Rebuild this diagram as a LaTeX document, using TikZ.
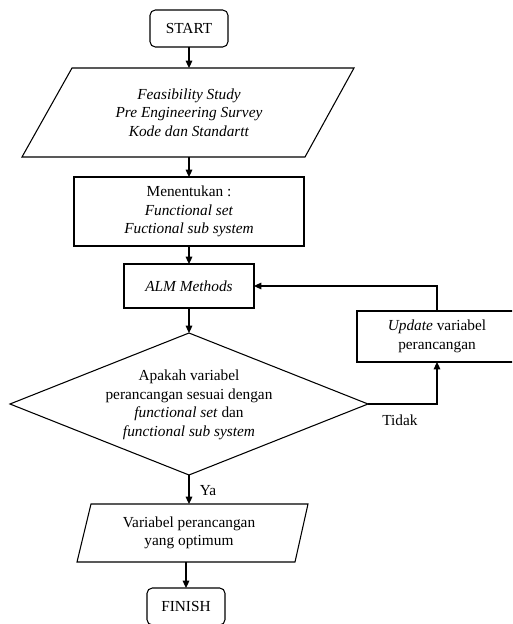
\documentclass[tikz,border=0pt]{standalone}
\usepackage{fontspec}
\setmainfont{Liberation Serif}
\usetikzlibrary{shapes.geometric,arrows.meta}
\begin{document}
\begin{tikzpicture}[x=0.75pt,y=-0.75pt, line width=0.8pt,
  font=\fontsize{11.5}{13.9}\selectfont,
  >={Triangle[length=5.5pt,width=5pt]},
  term/.style={draw, rounded corners=4pt, minimum width=58.5pt, minimum height=27.75pt, inner sep=0pt, outer sep=0pt},
  procbox/.style={draw, align=center, inner sep=0pt, outer sep=0pt},
  txt/.style={align=center, inner sep=0pt, outer sep=0pt},
  decision/.style={draw, shape=diamond, inner sep=0pt, outer sep=0pt, minimum width=268.5pt, minimum height=106.5pt}]
\useasboundingbox (0,0) rectangle (512,624);
\clip (0,0) rectangle (512,624);

\node[term] (start) at (189,28.5) {START};

\draw (72,68) -- (354,68) -- (305,157) -- (22,157) -- cycle;
\node[txt, minimum height=66.75pt] (p1) at (189,112.5)
  {\textit{Feasibility Study}\\ \textit{Pre Engineering Survey}\\ \textit{Kode dan Standartt}};

\node[procbox, minimum width=172.5pt, minimum height=51.75pt] (men) at (189,211.5)
  {Menentukan :\\ \textit{Functional set}\\ \textit{Fuctional sub system}};

\node[procbox, minimum width=97.5pt, minimum height=33pt] (alm) at (189,286) {\textit{ALM Methods}};

\node[decision] (dec) at (189,404) {};
\node[txt] (dectxt) at (189,405)
  {Apakah variabel\\ perancangan sesuai dengan\\ \textit{functional set} dan\\ \textit{functional sub system}};

\node[procbox, minimum width=120pt, minimum height=38.25pt] (upd) at (437,336.5)
  {\textit{Update} variabel\\ perancangan};

\draw (91,504) -- (308,504) -- (295,562) -- (77,562) -- cycle;
\node[txt, minimum height=43.5pt] (p2) at (189,533)
  {Variabel perancangan\\ yang optimum};

\node[term] (fin) at (186,606.5) {FINISH};

\coordinate (lx) at (437,0);

\draw[->] (start) -- (p1);
\draw[->] (p1) -- (men);
\draw[->] (men) -- (alm);
\draw[->] (alm) -- (dec.north);
\draw[->] (dec.south) -- (p2);
\draw[->] (p2.south -| fin) -- (fin);
\draw[->] (dec.east) -| (upd.south -| lx);
\draw[->] (upd.north -| lx) |- (alm.east);

\node[txt] (ya) at (208,491) {Ya};
\node[txt] (tidak) at (400,420) {Tidak};
\end{tikzpicture}
\end{document}
